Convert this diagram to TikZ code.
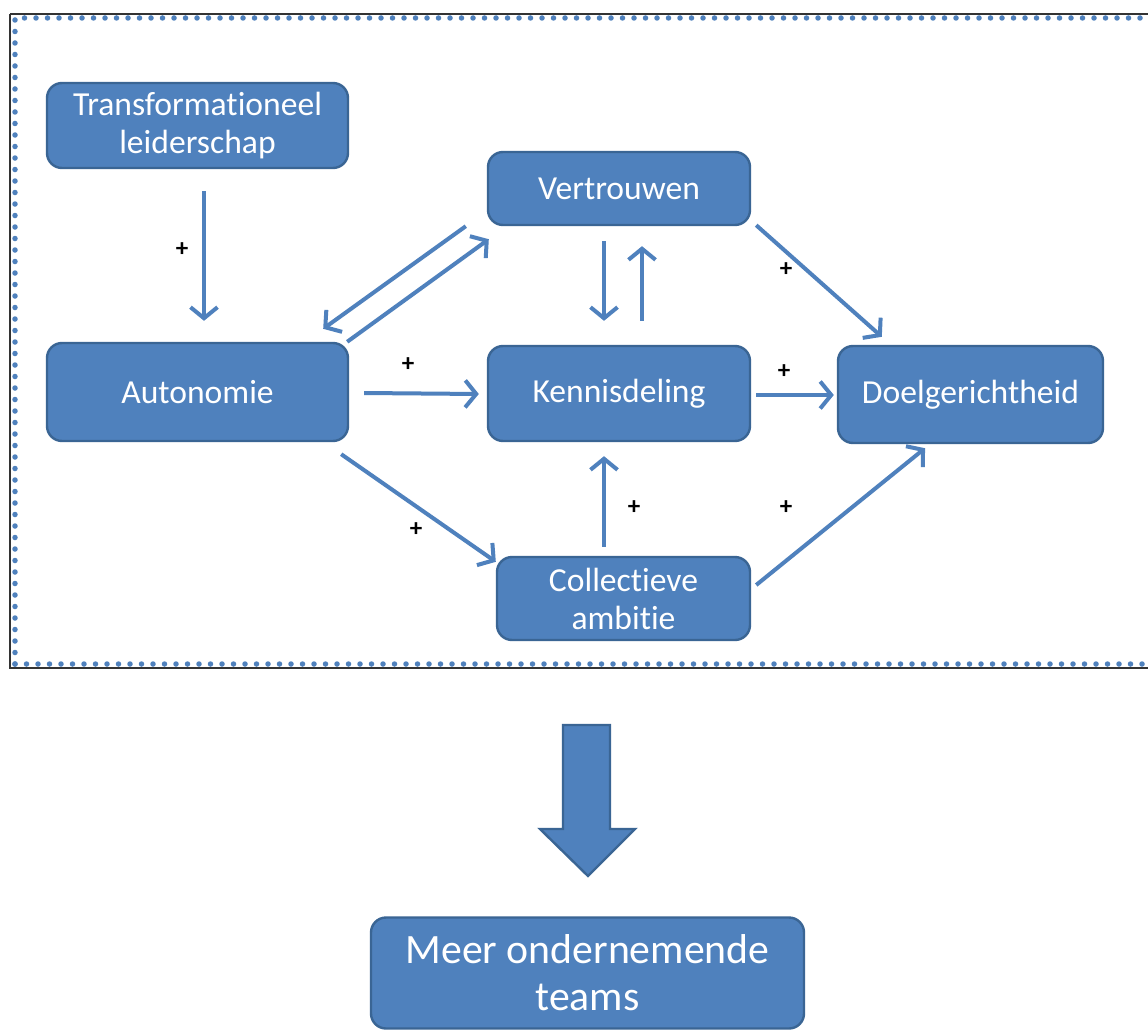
\documentclass[tikz,border=0pt]{standalone}
\usepackage{fontspec}
\setmainfont{Carlito}[Ligatures={NoCommon}]
\usetikzlibrary{arrows.meta,calc}
\definecolor{boxblue}{HTML}{4F81BD}
\definecolor{boxedge}{HTML}{3A6594}
\definecolor{dotblue}{HTML}{4F81BD}
\begin{document}
\begin{tikzpicture}[x=1pt,y=-1pt,
  box/.style={draw=boxedge,line width=2.4pt,fill=boxblue,rounded corners=15pt,
    text=white,align=center,inner sep=0pt,
    font=\fontsize{33.6}{38}\selectfont},
  bigbox/.style={box,font=\fontsize{41.75}{47}\selectfont},
  link/.style={draw=boxblue,line width=4pt,
    -{Straight Barb[length=11pt,width=27pt,line width=4pt]}},
  sign/.style={inner sep=0pt,font=\bfseries\fontsize{25}{25}\selectfont}]
\useasboundingbox (0,0) rectangle (1148,1030);
\fill[white] (0,0) rectangle (1148,1030);

% outer frame: black border and dotted blue inner rule
\draw[line width=2pt,black!80] (10,14) -- (1160,14);
\draw[line width=2pt,black!80] (10,14) -- (10,668) -- (1160,668);
\draw[dotblue,line width=5.5pt,line cap=round,dash pattern=on 0pt off 11.5pt]
  (15,664) -- (15,18) -- (1160,18);
\draw[dotblue,line width=5.5pt,line cap=round,dash pattern=on 0pt off 11.5pt]
  (15,664) -- (1160,664);

% boxes
\node[box,minimum width=301pt,minimum height=85pt] (t) at (197.5,125.5)
  {Transformationeel\\leiderschap};
\node[box,minimum width=262pt,minimum height=73pt] (v) at (619,188.5) {Vertrouwen};
\node[box,minimum width=301pt,minimum height=98pt] (a) at (197.5,392) {Autonomie};
\node[box,minimum width=262pt,minimum height=95pt] (k) at (619,393.5) {Kennisdeling};
\node[box,minimum width=265pt,minimum height=97pt] (d) at (970.5,394.5) {Doelgerichtheid};
\node[box,minimum width=253pt,minimum height=83pt] (c) at (623.5,598.5) {Collectieve\\ambitie};
\node[bigbox,minimum width=433pt,minimum height=111pt] (m) at (587.5,973)
  {Meer ondernemende\\teams};

% connectors
\draw[link] ($(t.south)+(6.5,22)$) -- ($(a.north)+(6.5,-21)$);
\draw[link] ($(v.south west)+(-21,0)$) -- ($(a.north east)+(-26,-13)$);
\draw[link] ($(a.north east)+(-2,0)$) -- ($(v.south west)+(2,13)$);
\draw[link] ($(a.east)+(15,1)$) -- ($(k.west)+(-8,0.5)$);
\draw[link] ($(v.south)+(-15,15)$) -- ($(k.north)+(-15,-24)$);
\draw[link] ($(k.north)+(23,-24)$) -- ($(v.south)+(23,20)$);
\draw[link] ($(v.south east)+(5,-1)$) -- ($(d.north west)+(45,-8)$);
\draw[link] ($(k.east)+(5,1.5)$) -- ($(d.west)+(-3,0.5)$);
\draw[link] ($(a.south east)+(-8,12)$) -- ($(c.north west)+(0,6)$);
\draw[link] ($(c.north)+(-19.5,-9)$) -- ($(k.south)+(-15,14)$);
\draw[link] ($(c.east)+(5,-13.5)$) -- ($(d.south)+(-45.5,4)$);

% signs
\node[sign] (p1) at (182,250) {+};
\node[sign] (p2) at (408,365) {+};
\node[sign] (p3) at (786,270) {+};
\node[sign] (p4) at (784,372) {+};
\node[sign] (p5) at (416,530) {+};
\node[sign] (p6) at (634,508) {+};
\node[sign] (p7) at (786,508) {+};

% block arrow down to the result
\draw[draw=boxedge,line width=2.4pt,fill=boxblue,line join=miter]
  (563,725) -- (610,725) -- (610,829) -- (635,829) -- (588,876)
  -- (540,829) -- (563,829) -- cycle;
\end{tikzpicture}
\end{document}
